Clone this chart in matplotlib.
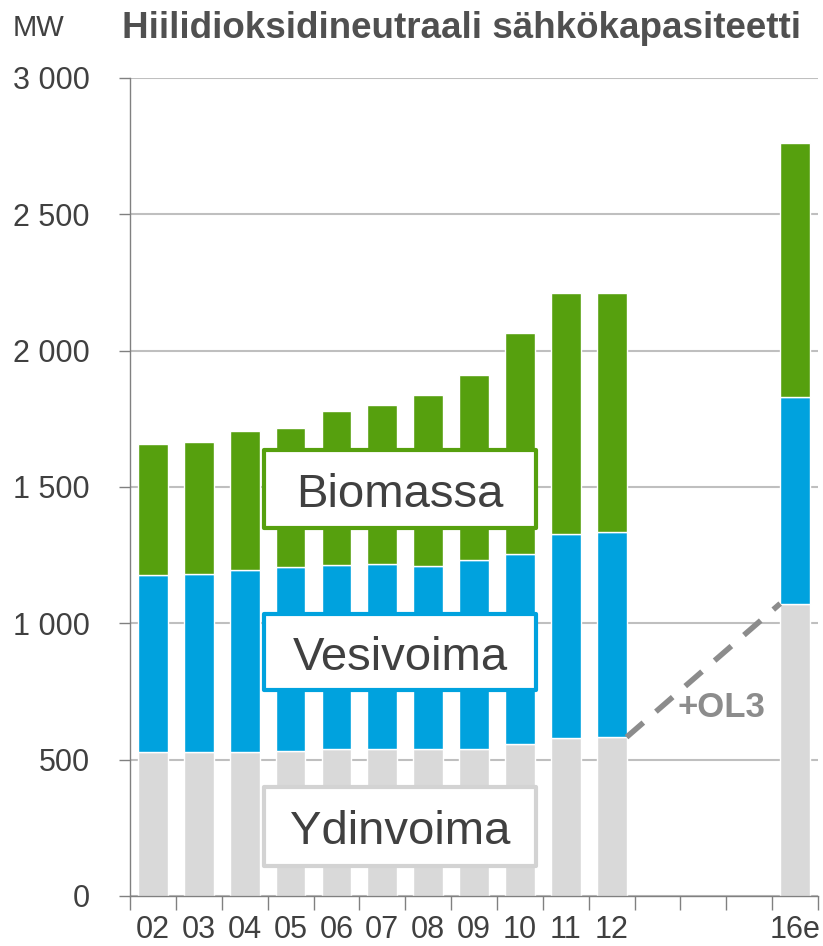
import numpy as np
import matplotlib
matplotlib.use("Agg")
import matplotlib.pyplot as plt
from matplotlib.patches import Rectangle

plt.rcParams['font.family'] = ['Liberation Sans', 'DejaVu Sans']

# data (MW)
years = ['02', '03', '04', '05', '06', '07', '08', '09', '10', '11', '12', '', '', '', '16e']
ydinvoima = [528, 528, 528, 533, 538, 538, 538, 538, 557, 580, 582, 0, 0, 0, 1072]
vesivoima = [650, 653, 667, 673, 676, 679, 672, 694, 697, 747, 753, 0, 0, 0, 759]
biomassa = [479, 484, 510, 510, 564, 583, 627, 678, 810, 884, 876, 0, 0, 0, 929]

c_green = '#56a00e'
c_blue = '#00a2de'
c_gray = '#d9d9d9'
c_text = '#404040'

fig = plt.figure(figsize=(8.23, 9.46), dpi=100)
ax = fig.add_axes([0.158, 0.053, 0.836, 0.8647])

x = np.arange(len(years))
w = 0.65
yd = np.array(ydinvoima)
ve = np.array(vesivoima)
bi = np.array(biomassa)
show = yd > 0
ax.bar(x[show], yd[show], w, color=c_gray, edgecolor='white', linewidth=1, zorder=2)
ax.bar(x[show], ve[show], w, bottom=yd[show], color=c_blue, edgecolor='white', linewidth=1, zorder=2)
ax.bar(x[show], bi[show], w, bottom=(yd + ve)[show], color=c_green, edgecolor='white', linewidth=1, zorder=2)

# OL3 viiva
ax.plot([x[10] + w / 2, x[14] - w / 2], [yd[10], yd[14]], color='#8c8c8c', lw=4,
        dashes=(4, 3), zorder=3, solid_capstyle='butt')
ax.text(12.4, 690, '+OL3', ha='center', va='center', fontsize=25, fontweight='bold',
        color='#8c8c8c', zorder=4)

ax.set_xlim(-0.5, len(years) - 0.5)
ax.set_ylim(0, 3000)
ax.set_yticks(np.arange(0, 3001, 500))
ax.set_yticklabels(['0', '500', '1 000', '1 500', '2 000', '2 500', '3 000'])
ax.grid(axis='y', color='#bfbfbf', lw=1.5, zorder=0)
ax.set_axisbelow(True)

ax.set_xticks(x)
ax.set_xticklabels(years)
ax.set_xticks(np.arange(-0.5, len(years)), minor=True)
ax.tick_params(axis='x', which='major', length=0, pad=14, labelsize=22, labelcolor=c_text)
ax.tick_params(axis='x', which='minor', length=10, width=1, color='#808080')
ax.tick_params(axis='y', length=8, width=1, color='#808080', pad=21, labelsize=22, labelcolor=c_text)

for s in ['top', 'right']:
    ax.spines[s].set_visible(False)
for s in ['left', 'bottom']:
    ax.spines[s].set_color('#808080')
    ax.spines[s].set_linewidth(1)

# laatikot
boxes = [('Biomassa', c_green, 0.450, 0.545),
         ('Vesivoima', c_blue, 0.252, 0.344),
         ('Ydinvoima', '#d3d3d3', 0.037, 0.133)]
for txt, col, y0, y1 in boxes:
    r = Rectangle((0.195, y0), 0.395, y1 - y0, transform=ax.transAxes, facecolor='white',
                  edgecolor=col, lw=3, zorder=5, joinstyle='round')
    ax.add_patch(r)
    ax.text(0.3925, (y0 + y1) / 2 - 0.007, txt, transform=ax.transAxes, ha='center', va='center',
            fontsize=34, color=c_text, zorder=6)

fig.text(0.015, 0.97, 'MW', fontsize=21, color=c_text, va='center', ha='left')
fig.text(0.148, 0.97, 'Hiilidioksidineutraali sähkökapasiteetti', fontsize=26.5,
         fontweight='bold', color='#505050', va='center', ha='left')

fig.savefig('out.png', dpi=100)
